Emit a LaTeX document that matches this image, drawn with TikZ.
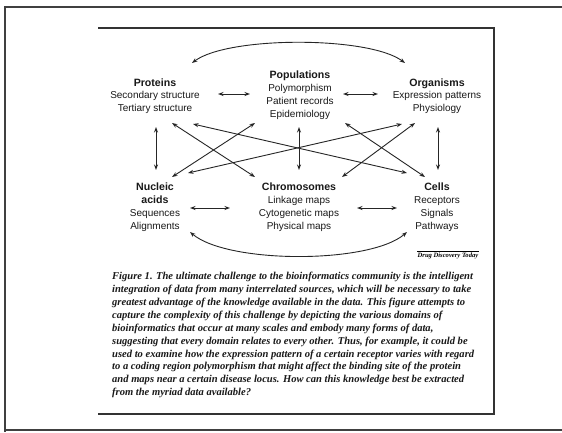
\documentclass[tikz,border=0pt]{standalone}
\usepackage{fontspec}
\setmainfont{Liberation Serif}
\setsansfont{Liberation Sans}
\usetikzlibrary{arrows.meta,calc}

\tikzset{
  dombox/.style={align=center, inner sep=0pt, text=black!90,
    font=\sffamily\fontsize{10}{12.8}\selectfont},
  linkarrow/.style={line width=0.9pt, draw=black!85,
    {Stealth[length=5.5pt,width=4pt]}-{Stealth[length=5.5pt,width=4pt]}},
  boxframe/.style={draw=black!80, line width=1.3pt},
  pageframe/.style={draw=black!75, line width=2pt},
  captext/.style={align=left, inner sep=0pt, anchor=north west, text=black!90,
    font=\bfseries\itshape\fontsize{10.55}{12.9}\selectfont},
}
\newcommand{\hd}[1]{{\bfseries\fontsize{10.6}{12.8}\selectfont #1}}

\begin{document}
\begin{tikzpicture}[x=1pt,y=-1pt]
  \useasboundingbox (0,0) rectangle (562,432);
  \fill[white] (0,0) rectangle (562,432);

  % page edges and the figure box
  \draw[pageframe] (562,7) -- (5,7) -- (5,432);
  \draw[pageframe] (5,430) -- (562,430);
  \draw[boxframe] (98,28) -- (494,28) -- (494,414) -- (98,414);

  % the six domains
  \node[dombox] (prot) at (155,96) {\hd{Proteins}\\Secondary structure\\Tertiary structure};
  \node[dombox] (pop)  at (300,95) {\hd{Populations}\\Polymorphism\\Patient records\\Epidemiology};
  \node[dombox] (org)  at (437,96) {\hd{Organisms}\\Expression patterns\\Physiology};
  \node[dombox] (nuc)  at (155,207) {\hd{Nucleic}\\\hd{acids}\\Sequences\\Alignments};
  \node[dombox] (chr)  at (299,207) {\hd{Chromosomes}\\Linkage maps\\Cytogenetic maps\\Physical maps};
  \node[dombox] (cell) at (437,207) {\hd{Cells}\\Receptors\\Signals\\Pathways};

  % neighbours in a row
  \draw[linkarrow] ([shift={(63,-2)}]prot.center) -- ([shift={(-50,-1)}]pop.center);
  \draw[linkarrow] ([shift={(43,-1)}]pop.center) -- ([shift={(-59,-2)}]org.center);
  \draw[linkarrow] ([shift={(35,1)}]nuc.center) -- ([shift={(-69,1)}]chr.center);
  \draw[linkarrow] ([shift={(58,1)}]chr.center) -- ([shift={(-40,1)}]cell.center);

  % columns
  \draw[linkarrow] ([shift={(1,31)}]prot.center) -- ([shift={(1,-37)}]nuc.center);
  \draw[linkarrow] ([shift={(-1,32)}]pop.center) -- ([shift={(0,-37)}]chr.center);
  \draw[linkarrow] ([shift={(1,31)}]org.center) -- ([shift={(1,-37)}]cell.center);

  % diagonals
  \draw[linkarrow] ([shift={(17,27)}]prot.center) -- ([shift={(-44,-30)}]chr.center);
  \draw[linkarrow] ([shift={(-45,28)}]pop.center) -- ([shift={(17,-30)}]nuc.center);
  \draw[linkarrow] ([shift={(38,28)}]prot.center) -- ([shift={(-30,-34)}]cell.center);
  \draw[linkarrow] ([shift={(-35,28)}]org.center) -- ([shift={(33,-34)}]nuc.center);
  \draw[linkarrow] ([shift={(45,28)}]pop.center) -- ([shift={(-12,-30)}]cell.center);
  \draw[linkarrow] ([shift={(-22,27)}]org.center) -- ([shift={(43,-30)}]chr.center);

  % outer corners
  \draw[linkarrow] ([shift={(37,-33)}]prot.center) .. controls (228,36) and (369,36) .. ([shift={(-32,-33)}]org.center);
  \draw[linkarrow] ([shift={(35,25)}]nuc.center) .. controls (228,264) and (370,264) .. ([shift={(-30,25)}]cell.center);

  % credit
  \node[inner sep=0pt, font=\bfseries\itshape\fontsize{6.6}{7}\selectfont] (ddt) at (448,256) {Drug Discovery Today};
  \draw[line width=0.8pt] ([yshift=1.5pt]ddt.north west) -- ([yshift=1.5pt]ddt.north east);

  % legend text
  \node[captext] (cap) at (112,272) {%
Figure 1. The ultimate challenge to the bioinformatics community is the intelligent\\
integration of data from many interrelated sources, which will be necessary to take\\
greatest advantage of the knowledge available in the data. This figure attempts to\\
capture the complexity of this challenge by depicting the various domains of\\
bioinformatics that occur at many scales and embody many forms of data,\\
suggesting that every domain relates to every other. Thus, for example, it could be\\
used to examine how the expression pattern of a certain receptor varies with regard\\
to a coding region polymorphism that might affect the binding site of the protein\\
and maps near a certain disease locus. How can this knowledge best be extracted\\
from the myriad data available?};
\end{tikzpicture}
\end{document}
